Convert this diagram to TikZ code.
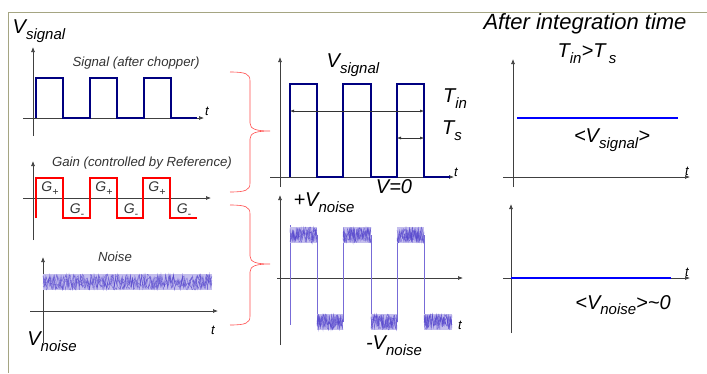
\documentclass[tikz,border=0pt]{standalone}
\usepackage{fontspec}
\setmainfont{Liberation Sans}
\usetikzlibrary{arrows.meta}
\definecolor{navywave}{RGB}{0,0,128}
\definecolor{noisecol}{RGB}{85,70,205}
\definecolor{framecol}{RGB}{165,165,130}
\newcommand{\lowsub}[1]{\raisebox{-0.55ex}{\scalebox{0.75}{#1}}}

\begin{document}
\begin{tikzpicture}[x=1pt, y=-1pt,
    axisstyle/.style={-{Latex[length=5pt,width=4pt]}, black!75, line width=0.7pt},
    spanarrow/.style={{Latex[length=4pt,width=3pt]}-{Latex[length=4pt,width=3pt]}, black!80, line width=0.5pt},
    sigwave/.style={navywave, line width=2.2pt},
    gainwave/.style={red, line width=2.2pt},
    avgline/.style={blue, line width=2.8pt},
    bracestyle/.style={red!70, line width=0.6pt},
    noisefill/.style={noisecol!35},
    noisy/.style={noisecol, line width=0.4pt, opacity=0.7},
    jump/.style={noisecol!80, line width=0.6pt},
    bigtxt/.style={font=\fontsize{20}{22}\selectfont\itshape},
    smalltxt/.style={font=\fontsize{13.2}{15}\selectfont\itshape, black!80},
    tlabel/.style={font=\fontsize{13}{14}\selectfont\itshape}
]
    \useasboundingbox (0,0) rectangle (707,373);
    \pgfmathsetseed{7}
    % frame
    \draw[framecol, line width=0.8pt] (8,373) -- (8,12) -- (707,12);

    % Left panel 1: signal after chopper
    \draw[axisstyle] (23,118) -- (204,118);
    \draw[axisstyle] (33,136) -- (33,47);
    \draw[sigwave] (36,118) -- (36,78) -- (63,78) -- (63,118) -- (90,118) -- (90,78) -- (117,78)
        -- (117,118) -- (144,118) -- (144,78) -- (171,78) -- (171,118) -- (197,118);
    \node[bigtxt] (vsigA) at (39,31) {V\lowsub{signal}};
    \node[smalltxt] (sigtitle) at (136,63) {Signal (after chopper)};
    \node[tlabel] (tA) at (207,111) {t};

    % Left panel 2: gain
    \draw[axisstyle] (23,198) -- (211,198);
    \draw[axisstyle] (33,240) -- (33,161);
    \draw[gainwave] (36,218) -- (36,178) -- (63,178) -- (63,218) -- (90,218) -- (90,178) -- (117,178)
        -- (117,218) -- (143,218) -- (143,178) -- (170,178) -- (170,218) -- (197,218);
    \node[smalltxt] (gaintitle) at (142,163) {Gain (controlled by Reference)};
    \foreach \g [count=\i] in {50,104,157} {
        \node[smalltxt, font=\fontsize{14}{15}\selectfont\itshape] (gp\i) at (\g,189) {G\lowsub{+}};
        \node[smalltxt, font=\fontsize{14}{15}\selectfont\itshape] (gm\i) at (\g+27,211) {G\lowsub{-}};
    }

    % Left panel 3: noise
    \draw[axisstyle] (30,311) -- (218,311);
    \draw[axisstyle] (43,343) -- (43,257);
    \fill[noisefill] (43,274) rectangle (212,290);
    \foreach \k in {1,2,3,4}
        \draw[noisy] plot[domain=43:212, samples=150] (\x, {282+8*rand});
    \node[smalltxt] (noisetitle) at (115,257) {Noise};
    \node[tlabel] (tC) at (213,330) {t};
    \node[bigtxt] (vnoiseA) at (52,342) {V\lowsub{noise}};

    % braces towards the middle panels
    \foreach \ya/\yb/\yc in {72/131/192, 205/264/325} {
        \draw[bracestyle] (230,\ya) .. controls (246,\ya) and (250,\ya+2) .. (250,\ya+9)
            -- (250,\yb-8) .. controls (250,\yb-2) and (256,\yb) .. (270,\yb)
            .. controls (256,\yb) and (250,\yb+2) .. (250,\yb+8)
            -- (250,\yc-9) .. controls (250,\yc-2) and (246,\yc) .. (230,\yc);
    }

    % Middle top: chopped signal
    \draw[axisstyle] (270,177) -- (454,177);
    \draw[axisstyle] (280,187) -- (280,57);
    \draw[sigwave] (290,177) -- (290,84) -- (317,84) -- (317,177) -- (343,177) -- (343,84) -- (371,84)
        -- (371,177) -- (397,177) -- (397,84) -- (424,84) -- (424,177) -- (450,177);
    \coordinate (tinL) at (290,111);
    \coordinate (tinR) at (424,111);
    \coordinate (tsL) at (397,138);
    \coordinate (tsR) at (424,138);
    \draw[spanarrow] (tinL) -- (tinR);
    \draw[spanarrow] (tsL) -- (tsR);
    \node[bigtxt] (vsigB) at (353,65) {V\lowsub{signal}};
    \node[bigtxt] (tin) at (455,99) {T\lowsub{in}};
    \node[bigtxt] (ts) at (452,131) {T\lowsub{s}};
    \node[bigtxt] (vzero) at (394,187) {V=0};
    \node[tlabel] (tB) at (456,172) {t};

    % Middle bottom: chopped noise
    \draw[axisstyle] (277,278) -- (463,278);
    \draw[axisstyle] (280,345) -- (280,195);
    \draw[jump] (290,225) -- (290,325);
    \foreach \xj in {317,343,371,397,424}
        \draw[jump] (\xj,235) -- (\xj,322);
    \foreach \xa/\xb/\yc in {290/317/235, 343/371/235, 397/424/235, 317/343/322, 371/397/322, 424/452/322} {
        \fill[noisefill] (\xa,\yc-8) rectangle (\xb,\yc+8);
        \foreach \k in {1,2,3,4}
            \draw[noisy] plot[domain=\xa:\xb, samples=40] (\x, {\yc+8*rand});
    }
    \node[bigtxt] (vnoiseP) at (324,203) {+V\lowsub{noise}};
    \node[bigtxt] (vnoiseM) at (394,346) {-V\lowsub{noise}};
    \node[tlabel] (tD) at (460,325) {t};

    % Right: after integration
    \node[bigtxt, font=\fontsize{22}{24}\selectfont\itshape] (inttitle) at (585,24) {After integration time};
    \node[bigtxt] (tcond) at (587,54) {T\lowsub{in}>T\,\lowsub{s}};
    \draw[axisstyle] (503,177) -- (690,177);
    \draw[axisstyle] (513,187) -- (513,59);
    \draw[avgline] (517,118) -- (678,118);
    \node[bigtxt] (avgsig) at (612,140) {<V\lowsub{signal}>};
    \node[tlabel] (tE) at (687,171) {t};

    \draw[axisstyle] (503,278) -- (690,278);
    \draw[axisstyle] (511,333) -- (511,204);
    \draw[avgline] (511,278) -- (671,278);
    \node[bigtxt] (avgnoise) at (623,305) {<V\lowsub{noise}>\textasciitilde0};
    \node[tlabel] (tF) at (687,272) {t};
\end{tikzpicture}
\end{document}
